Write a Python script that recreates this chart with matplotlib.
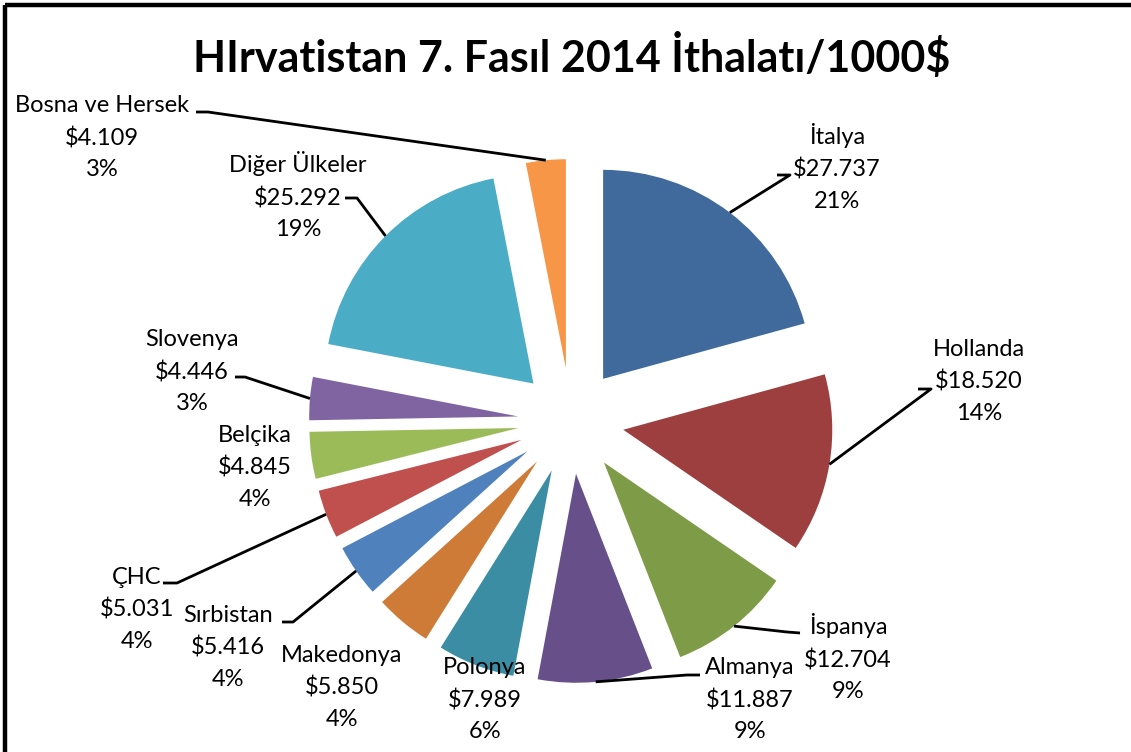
import numpy as np
import matplotlib
matplotlib.use("Agg")
import matplotlib.pyplot as plt

plt.rcParams['font.family'] = ['Lato', 'DejaVu Sans']

# data
countries = ['İtalya', 'Hollanda', 'İspanya', 'Almanya', 'Polonya', 'Makedonya',
             'Sırbistan', 'ÇHC', 'Belçika', 'Slovenya', 'Diğer Ülkeler', 'Bosna ve Hersek']
values = [27737, 18520, 12704, 11887, 7989, 5850, 5416, 5031, 4845, 4446, 25292, 4109]
colors = ['#3F6A9B', '#9C3F3E', '#7E9B48', '#67508A', '#3B8DA3', '#CE7B37',
          '#4F81BD', '#C0504D', '#9BBB59', '#8064A2', '#4BACC6', '#F79646']

title = 'HIrvatistan 7. Fasıl 2014 İthalatı/1000$'

W, H = 1131, 752
cx, cy = 571, 421      # pie centre (image pixels, y down)
R = 209
EXPL = 53

# label centres (image px) and leader elbows (None = no leader)
label_pos = [(837, 167), (979, 381), (848, 658), (750, 700), (485, 700), (342, 687),
             (228, 647), (137, 609), (255, 467), (192, 372), (298, 196), (102, 138)]
elbows = [((777, 175), (790, 175)), ((918, 389), (931, 389)), ((800, 633), (787, 632)),
          ((700, 675), (687, 675)), None, None,
          ((282, 622), (293, 622)), ((163, 583), (177, 583)), None,
          ((235, 377), (245, 377)), ((345, 198), (357, 198)), ((196, 112), (208, 112))]


def Y(y):
    return H - y


fig = plt.figure(figsize=(W / 100, H / 100), dpi=100)
ax = fig.add_axes([0, 0, 1, 1])

total = sum(values)
wedges, _ = ax.pie(values, colors=colors, startangle=90, counterclock=False,
                   explode=[EXPL] * len(values), radius=R, center=(cx, Y(cy)),
                   wedgeprops=dict(linewidth=0), frame=True)

ax.set_xlim(0, W)
ax.set_ylim(0, H)
ax.set_aspect('equal')
ax.axis('off')

for i, w in enumerate(wedges):
    tm = np.deg2rad((w.theta1 + w.theta2) / 2)
    wx, wy = w.center
    ex, ey = wx + R * np.cos(tm), wy + R * np.sin(tm)
    pct = round(100 * values[i] / total)
    val = '$' + f'{values[i]:,}'.replace(',', '.')
    lx, ly = label_pos[i]
    ax.text(lx, Y(ly), f'{countries[i]}\n{val}\n{pct}%', ha='center', va='center',
            fontsize=17, linespacing=1.6, color='black')
    if elbows[i] is not None:
        (ax0, ay0), (ax1, ay1) = elbows[i]
        ax.plot([ax0, ax1, ex], [Y(ay0), Y(ay1), ey], color='black', lw=2,
                solid_capstyle='butt')

ax.text(572, Y(56), title, ha='center', va='center', fontsize=31, fontweight='bold')

# chart frame (top and left edges visible)
ax.plot([5, W], [Y(5), Y(5)], color='black', lw=3.2, solid_capstyle='butt')
ax.plot([5, 5], [Y(5), 0], color='black', lw=3.2, solid_capstyle='butt')

fig.savefig('out.png', dpi=100)
